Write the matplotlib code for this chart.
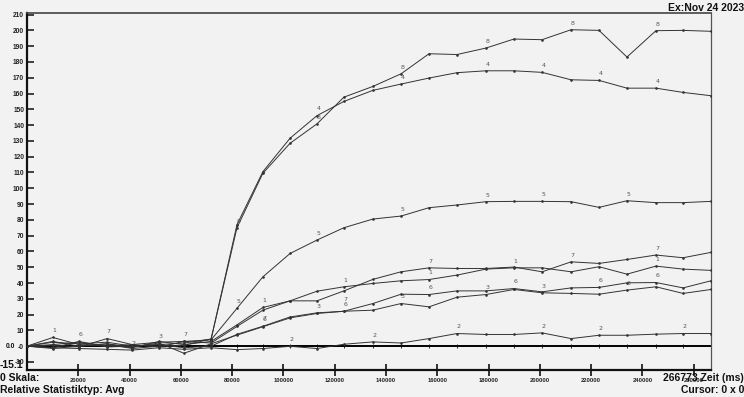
import matplotlib
matplotlib.use("Agg")
import matplotlib.pyplot as plt

# ---------------- data ----------------
times = [0, 10100, 20300, 31200, 41000, 51500, 61200, 71800, 81900, 92000,
         102600, 113100, 123600, 134900, 145900, 156800, 167700, 179000,
         189900, 200900, 212200, 223100, 234000, 245300, 255900, 266773]

s1 = [0, 5.5, 1, 0.5, -1, 3, 1, 3, 13.5, 24.5, 28.7, 34.8, 37.6, 39.7, 41.4,
      42.2, 45, 48.8, 49.6, 49.6, 47.1, 50.3, 45.6, 50.7, 48.8, 48]
s2 = [0, -1, -1.5, -2, -2.5, -1, -2, -1, -2.2, -1.5, -0.1, -1.5, 1.2, 2.7, 2.0,
      4.8, 8.0, 7.4, 7.4, 8.4, 4.8, 6.9, 6.9, 7.6, 8.0, 8.0]
s3 = [0, 3, 0, 1.5, -0.5, 2, -4.5, 1.5, 7, 12.3, 17.9, 20.7, 22.1, 22.8, 27,
      24.9, 31, 32.7, 35.9, 33.8, 33.4, 32.9, 35.5, 37.6, 33.4, 35.9]
s4 = [0, 2.5, 1.5, 2.5, 0, 1, 2, 4.5, 77, 110.5, 131.7, 146, 155, 162, 166,
      169.8, 173.2, 174.4, 174.4, 173.4, 168.7, 168.3, 163.4, 163.4, 160.7, 158.6]
s5 = [0, 1, 2.5, 0, 1, 2.5, 3, 4, 24, 43.9, 58.7, 67.2, 75, 80.5, 82.4, 87.7,
      89.4, 91.5, 91.7, 91.7, 91.5, 87.9, 92.1, 90.9, 90.9, 91.7]
s6 = [0, -1, 3, -0.5, 0, 1, -1, 0, 7.5, 12.6, 18.5, 21.1, 22.1, 27, 32.9, 32.7,
      35, 35, 36.5, 34.4, 36.9, 37.2, 40.1, 40.3, 36.9, 41.4]
s7 = [0, 0.5, -0.5, 4.8, 1, -0.5, 3, 2, 12.5, 22.8, 28.7, 28.7, 35, 42.3, 47.1,
      49.6, 49.2, 49.2, 50.1, 47.1, 53.4, 52.4, 54.9, 57.7, 56, 59.4]
s8 = [0, -1.5, 0, 1.5, -1.5, 0, 0.5, 4.5, 75, 109.5, 128.5, 140.8, 157.7, 164.5,
      172.5, 185.2, 184.7, 188.8, 194.5, 194.1, 200.4, 200, 183.1, 199.8, 200, 199.4]

series_names = ["1", "2", "3", "4", "5", "6", "7", "8"]
series_values = [s1, s2, s3, s4, s5, s6, s7, s8]
label_points = [
    [1, 9, 12, 15, 18, 23],
    [4, 10, 13, 16, 19, 21, 24],
    [5, 11, 14, 17, 19, 22],
    [11, 14, 17, 19, 21, 23],
    [8, 11, 14, 17, 19, 22],
    [2, 9, 12, 15, 18, 21, 23],
    [3, 6, 9, 12, 15, 20, 23],
    [8, 11, 14, 17, 20, 23],
]

x_ticks = list(range(20000, 260001, 20000))
y_ticks = list(range(-10, 211, 10))
x_max = 266773
y_min = -15.1
y_max = 211

# ---------------- figure ----------------
bg = "#f2f2f2"
fig = plt.figure(figsize=(7.44, 3.97), dpi=100, facecolor=bg)
ax = fig.add_axes([27 / 744, 1 - 370 / 397, (711 - 27) / 744, (370 - 13) / 397])
ax.set_facecolor(bg)

line_col = "#333333"
for name, vals, lp in zip(series_names, series_values, label_points):
    ax.plot(times, vals, color=line_col, lw=0.7, marker=".", ms=1.8, zorder=3)
    for i in lp:
        dy = 3
        if name == "7" and i in (9, 12):
            dy = -8
        ax.annotate(name, (times[i], vals[i]), xytext=(1, dy),
                    textcoords="offset points", fontsize=4.5,
                    color="#555555", ha="center", va="bottom",
                    family="DejaVu Sans")

# zero reference line with sample ticks
ax.plot(times, [0] * len(times), color="black", lw=1.4, marker="|", ms=3,
        mew=0.6, zorder=2)

ax.set_xlim(0, x_max)
ax.set_ylim(y_min, y_max)

ax.set_xticks(x_ticks)
ax.set_xticklabels([str(t) for t in x_ticks], fontsize=4.2, fontweight="bold",
                   family="Liberation Sans", color="#222222")
ax.set_yticks(y_ticks)
ylabels = []
for t in y_ticks:
    if t == 0:
        ylabels.append("-0")
    else:
        ylabels.append(str(t))
ax.set_yticklabels(ylabels, fontsize=4.8, fontweight="bold",
                   family="Liberation Sans", color="#222222")
ax.tick_params(axis="x", direction="inout", length=9, width=1.3, pad=1.5,
               color="#222222")
ax.tick_params(axis="y", direction="in", length=5, width=1.2, pad=2,
               color="#222222")

for side in ["left", "bottom"]:
    ax.spines[side].set_color("#111111")
    ax.spines[side].set_linewidth(1.6)
ax.spines["top"].set_color("#444444")
ax.spines["top"].set_linewidth(1.2)
ax.spines["right"].set_color("#555555")
ax.spines["right"].set_linewidth(0.9)

# ---------------- texts ----------------
bold = dict(family="Liberation Sans", fontweight="bold", color="#111111")
fig.text(1.0, 1 - 8 / 397, "Ex:Nov 24 2023", ha="right", va="center",
         fontsize=7.5, **bold)
fig.text(0.0, 1 - 378 / 397, "0 Skala:", ha="left", va="center",
         fontsize=7.5, **bold)
fig.text(0.0, 1 - 390 / 397, "Relative Statistiktyp: Avg", ha="left",
         va="center", fontsize=7.5, **bold)
fig.text(1.0, 1 - 378 / 397, "266773 Zeit (ms)", ha="right", va="center",
         fontsize=7.5, **bold)
fig.text(1.0, 1 - 390 / 397, "Cursor: 0 x 0", ha="right", va="center",
         fontsize=7.5, **bold)
fig.text(0.0, 1 - 365 / 397, "-15.1", ha="left", va="center",
         fontsize=7.5, **bold)
fig.text(6 / 744, 1 - 346 / 397, "0.0", ha="left", va="center",
         fontsize=4.8, **bold)

fig.savefig("out.png", dpi=100, facecolor=bg)
